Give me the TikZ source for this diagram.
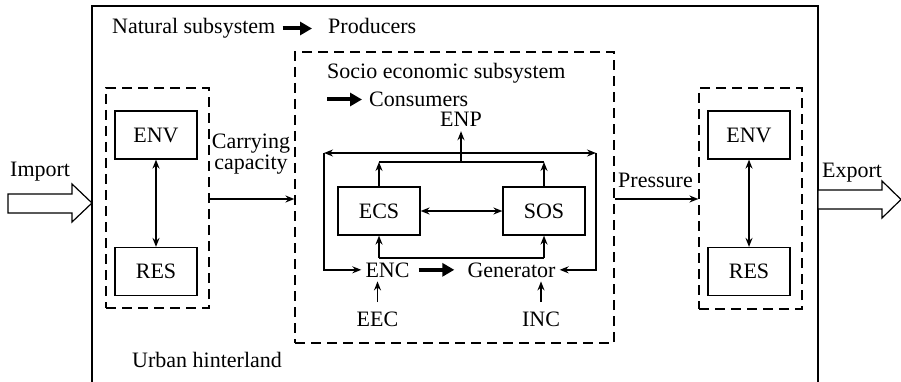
\documentclass[tikz,border=0pt]{standalone}
\usepackage{fontspec}
\setmainfont{Liberation Serif}
\usetikzlibrary{arrows.meta,calc}
\begin{document}
\begin{tikzpicture}[x=1pt,y=-1pt,
  font=\fontsize{22}{24}\selectfont,
  box/.style={draw,line width=1.2pt,minimum width=82pt,minimum height=48pt,inner sep=0pt},
  txt/.style={inner sep=0pt},
  term/.style={inner sep=4pt,anchor=base},
  zone/.style={draw,line width=1.2pt,dash pattern=on 10pt off 6pt,inner sep=0pt},
  tip/.tip={Stealth[length=9pt,width=7pt,inset=3pt]},
  link/.style={line width=1.5pt,-tip},
  duo/.style={line width=1.5pt,tip-tip},
  wire/.style={line width=1.5pt},
  bold/.style={line width=4pt,-{Triangle[length=12pt,width=13pt]}},
  hollow/.style={draw,line width=1.2pt,fill=white,line join=miter}
]
\useasboundingbox (0,0) rectangle (901,382);

% urban hinterland frame (open at the bottom)
\coordinate (frameBL) at (92,382);
\coordinate (frameTL) at (92,6);
\coordinate (frameTR) at (818,6);
\coordinate (frameBR) at (818,382);
\draw[line width=1.3pt] (frameBL) -- (frameTL) -- (frameTR) -- (frameBR);

% import / export block arrows
\draw[hollow] (8,194) -- (72,194) -- (72,184) -- (92,203) -- (72,222) -- (72,213) -- (8,213) -- cycle;
\draw[hollow] (818,190) -- (882,190) -- (882,181) -- (901,199.5) -- (882,218) -- (882,209) -- (818,209) -- cycle;
\node[txt,anchor=base west] (import) at (10,176) {Import};
\node[txt,anchor=base west] (export) at (822,177) {Export};

% headings
\node[txt,anchor=base west] (natural) at (112,34) {Natural subsystem};
\node[txt,anchor=base west] (producers) at (328,34) {Producers};
\draw[bold] ($(natural.base east)+(7,-5.5)$) -- ($(producers.base west)+(-16,-5.5)$);
\node[txt,anchor=base west] (urban) at (132,367) {Urban hinterland};

% subsystem zones
\node[zone,minimum width=103pt,minimum height=220pt] (zoneL) at (157.5,198) {};
\node[zone,minimum width=319pt,minimum height=291pt] (zoneM) at (454.5,197.5) {};
\node[zone,minimum width=103pt,minimum height=221pt] (zoneR) at (750.5,198.5) {};

\node[txt,anchor=base west] (socio) at (327,79) {Socio economic subsystem};
\node[txt,anchor=base west] (consumers) at (369,107) {Consumers};
\draw[bold] ($(consumers.base west)+(-42,-7.5)$) -- ($(consumers.base west)+(-7,-7.5)$);

% natural subsystems on both sides
\node[box] (envL) at (156,135) {ENV};
\node[box] (resL) at (156,271.5) {RES};
\node[box] (envR) at (749,135) {ENV};
\node[box] (resR) at (749,271.5) {RES};
\draw[duo] (envL) -- (resL);
\draw[duo] (envR) -- (resR);

% flows between the zones
\coordinate (flowY) at (0,199);
\node[txt,anchor=base,align=center,font=\fontsize{22}{17.5}\selectfont] (carry) at (251,169) {Carrying\\capacity};
\node[txt,anchor=base] (pressure) at (655.5,187) {Pressure};
\draw[link] (zoneL.east |- flowY) -- (zoneM.west |- flowY);
\draw[link] (zoneM.east |- flowY) -- (zoneR.west |- flowY);

% socio economic core
\node[box] (ecs) at (379,211) {ECS};
\node[box] (sos) at (544,211) {SOS};
\draw[duo] (ecs) -- (sos);

\node[term] (enp) at (461,127) {ENP};
\node[term] (enc) at (387.5,277) {ENC};
\node[term] (gen) at (511.5,277) {Generator};
\node[term] (eec) at (377.5,326) {EEC};
\node[term] (inc) at (541,326) {INC};

\coordinate (topL) at (324,153);
\coordinate (topR) at (596,153);
\coordinate (hub) at (461,153);
\coordinate (upM) at (461,162);
\coordinate (lowL) at (379,258);
\coordinate (lowR) at (544,258);

% outputs collected upward to ENP
\draw[link] (ecs.north) -- (ecs.north |- upM);
\draw[link] (sos.north) -- (sos.north |- upM);
\draw[wire] (ecs.north |- upM) -- (sos.north |- upM);
\draw[link] (upM) -- (enp.south);

% feedback loop back to ENC and Generator
\draw[link] (hub) -- (topL);
\draw[link] (hub) -- (topR);
\draw[link] (topL) |- (enc.west);
\draw[link] (topR) |- (gen.east);

% inputs feeding ECS and SOS
\draw[wire] (lowL) -- (lowR);
\draw[link] (lowL) -- (ecs.south);
\draw[link] (lowR) -- (sos.south);
\draw[bold,shorten <=5pt,shorten >=9pt] (enc.east) -- (gen.west);
\draw[link,shorten <=5pt] (eec.north) -- (eec.north |- enc.south);
\draw[link,shorten <=5pt] (inc.north) -- (inc.north |- gen.south);
\end{tikzpicture}
\end{document}
